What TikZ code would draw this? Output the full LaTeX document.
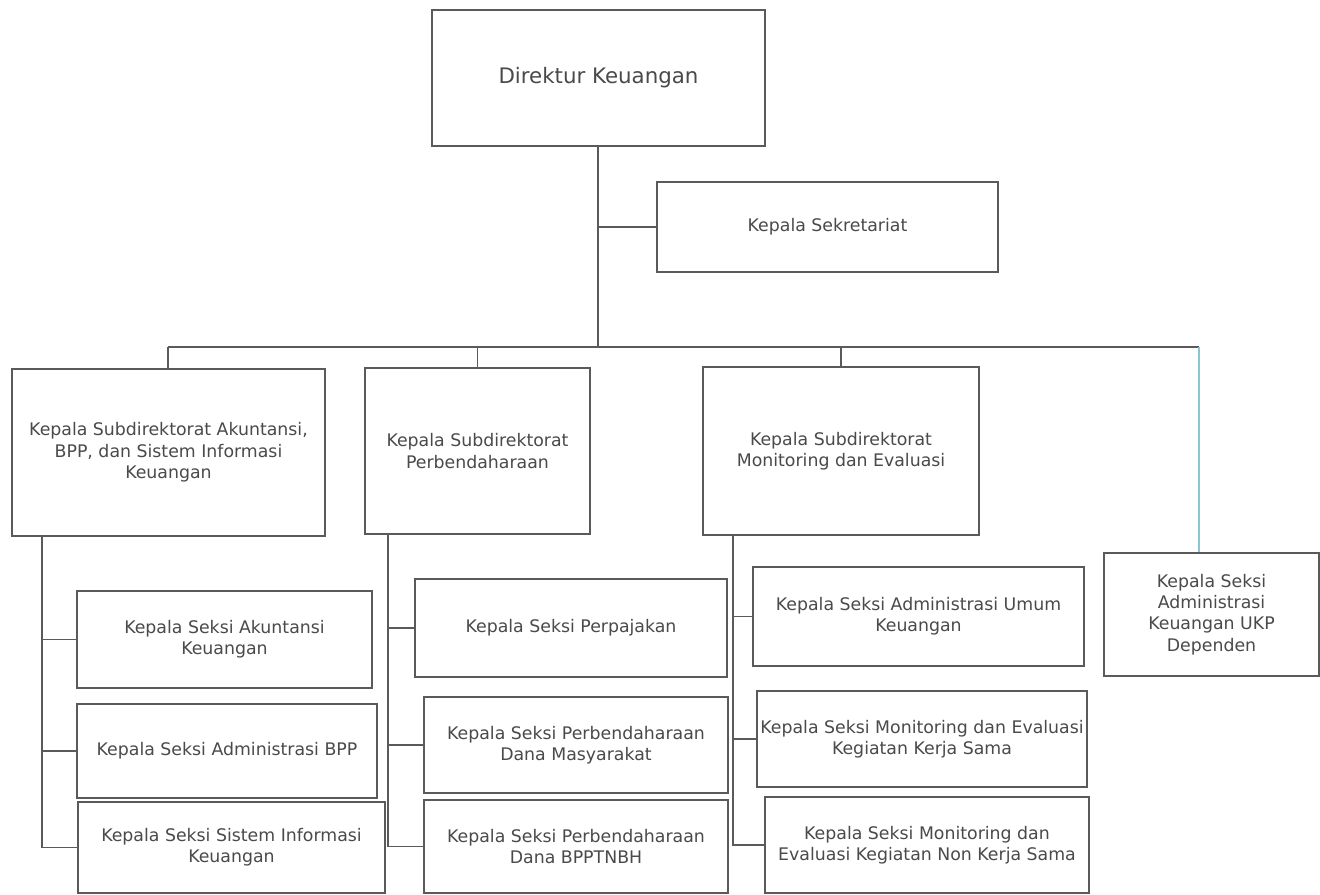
\documentclass[tikz,border=0pt]{standalone}
\usepackage{fontspec}
\setmainfont{DejaVu Sans}
\begin{document}
\begin{tikzpicture}[x=0.75pt,y=-0.75pt,
  box/.style={draw=linegray, line width=1.3pt, inner sep=0pt, align=center,
    text=textgray, font=\fontsize{13}{16}\selectfont},
  conn/.style={draw=linegray, line width=1.3pt},
  blueconn/.style={draw=lineblue, line width=1.3pt}]
\definecolor{linegray}{HTML}{5A5A5A}
\definecolor{textgray}{HTML}{4A4A4A}
\definecolor{lineblue}{HTML}{8EC3D3}
\newcommand\orgbox[6]{\node[box, minimum width={(#4-#2)*0.75pt}, minimum height={(#5-#3)*0.75pt}] (#1) at ({(#2+#4)/2},{(#3+#5)/2}) {#6};}
\fill[white] (0,0) rectangle (1320,895);
\useasboundingbox (0,0) rectangle (1320,895);
% top
\orgbox{dir}{432}{10}{765}{146}{\fontsize{16}{19}\selectfont Direktur Keuangan}
\orgbox{sek}{657}{182}{998}{272}{Kepala Sekretariat}
% level 2
\orgbox{s1}{12}{369}{325}{536}{Kepala Subdirektorat Akuntansi,\\BPP, dan Sistem Informasi\\Keuangan}
\orgbox{s2}{365}{368}{590}{534}{Kepala Subdirektorat\\Perbendaharaan}
\orgbox{s3}{703}{367}{979}{535}{Kepala Subdirektorat\\Monitoring dan Evaluasi}
\orgbox{ukp}{1104}{553}{1319}{676}{\fontsize{13}{18.5}\selectfont Kepala Seksi\\Administrasi\\Keuangan UKP\\Dependen}
% level 3
\orgbox{a1}{77}{591}{372}{688}{Kepala Seksi Akuntansi\\Keuangan}
\orgbox{a2}{77}{704}{377}{798}{Kepala Seksi Administrasi BPP}
\orgbox{a3}{78}{802}{385}{893}{Kepala Seksi Sistem Informasi\\Keuangan}
\orgbox{b1}{415}{579}{727}{677}{Kepala Seksi Perpajakan}
\orgbox{b2}{424}{697}{728}{793}{Kepala Seksi Perbendaharaan\\Dana Masyarakat}
\orgbox{b3}{424}{800}{728}{893}{Kepala Seksi Perbendaharaan\\Dana BPPTNBH}
\orgbox{c1}{753}{567}{1084}{666}{Kepala Seksi Administrasi Umum\\Keuangan}
\orgbox{c2}{757}{691}{1087}{787}{Kepala Seksi Monitoring dan Evaluasi\\Kegiatan Kerja Sama}
\orgbox{c3}{765}{797}{1089}{893}{Kepala Seksi Monitoring dan\\Evaluasi Kegiatan Non Kerja Sama}
% junctions
\coordinate (j) at (598,347);
\coordinate (bl) at (168,347);
\coordinate (br) at (1199,347);
\coordinate (v1) at (42,536);
\coordinate (v2) at (388,534);
\coordinate (v3) at (733,535);
% connectors
\draw[conn] (dir.south -| j) -- (j);
\draw[conn] (sek.west -| j) -- (sek.west);
\draw[conn] (bl) -- (br);
\draw[conn] (bl) -- (bl |- s1.north);
\draw[conn] (s2.north |- bl) -- (s2.north);
\draw[conn] (s3.north |- bl) -- (s3.north);
\draw[blueconn] (br) -- (br |- ukp.north);
\draw[conn] (v1) |- (a3.west);
\draw[conn] (v1 |- a1.west) -- (a1.west);
\draw[conn] (v1 |- a2.west) -- (a2.west);
\draw[conn] (v2) |- (b3.west);
\draw[conn] (v2 |- b1.west) -- (b1.west);
\draw[conn] (v2 |- b2.west) -- (b2.west);
\draw[conn] (v3) |- (c3.west);
\draw[conn] (v3 |- c1.west) -- (c1.west);
\draw[conn] (v3 |- c2.west) -- (c2.west);
\end{tikzpicture}
\end{document}
